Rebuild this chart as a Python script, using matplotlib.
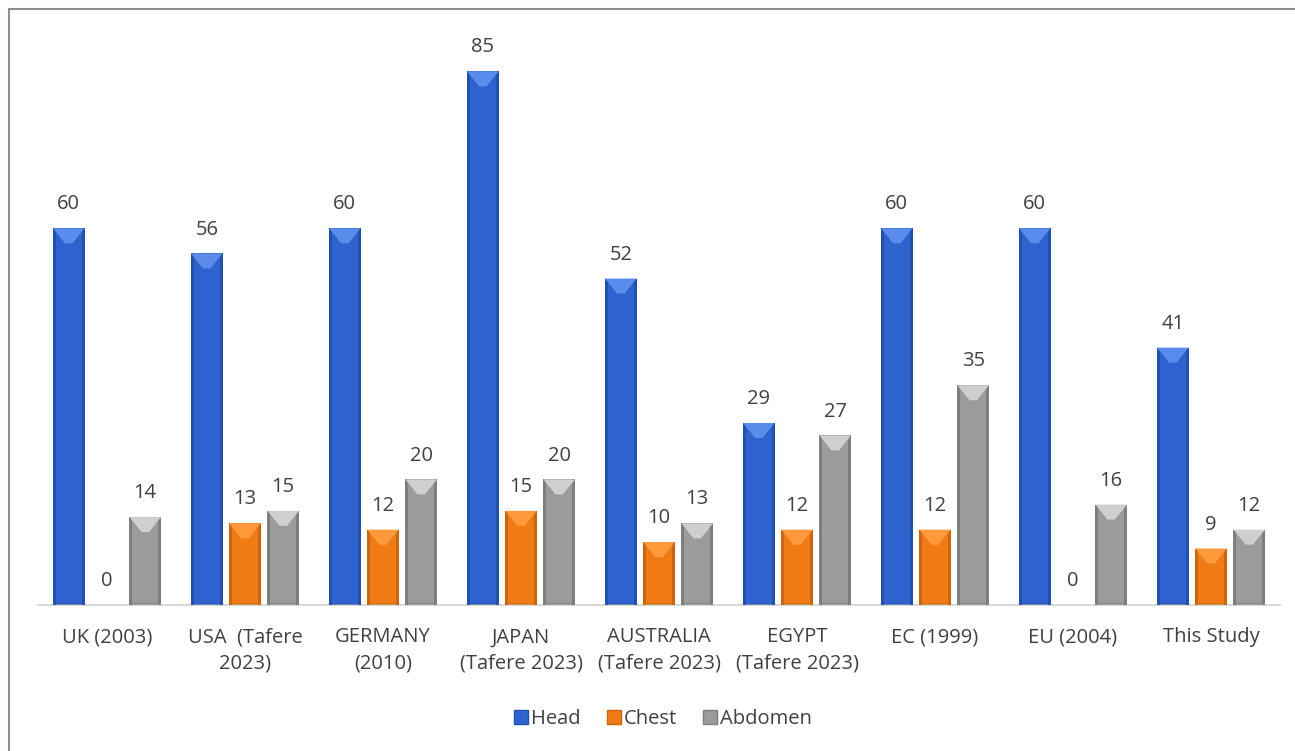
import matplotlib.pyplot as plt
from matplotlib.patches import Polygon, Rectangle, Patch

categories = ['UK (2003)', 'USA  (Tafere\n2023)', 'GERMANY\n(2010)', 'JAPAN\n(Tafere 2023)',
              'AUSTRALIA\n(Tafere 2023)', 'EGYPT\n(Tafere 2023)', 'EC (1999)', 'EU (2004)', 'This Study']
head = [60, 56, 60, 85, 52, 29, 60, 60, 41]
chest = [0, 13, 12, 15, 10, 12, 12, 0, 9]
abdomen = [14, 15, 20, 20, 13, 27, 35, 16, 12]

series = [('Head', head, '#2E63CF', '#5A8CEB', '#2250B2'),
          ('Chest', chest, '#F07B14', '#FF9A3C', '#CF6508'),
          ('Abdomen', abdomen, '#9B9B9B', '#CFCFCF', '#7E7E7E')]

plt.rcParams['font.family'] = ['Open Sans', 'DejaVu Sans']
text_col = '#404040'
fs = 14.5

fig = plt.figure(figsize=(12.95, 7.51), dpi=100)
ax = fig.add_axes([38 / 1295, 146 / 751, 1242 / 1295, 565 / 751])
ax.set_xlim(-0.5, len(categories) - 0.5)
ax.set_ylim(0, 90)

width = 0.228
offsets = [-0.277, 0, 0.277]
# pixel sizes converted to data units for the bevel look
px_x = len(categories) / 1242
px_y = 90 / 565


def bevel_bar(x, h, base, light, dark):
    ax.bar(x, h, width, color=base, zorder=2)
    if h <= 0:
        return
    l, r = x - width / 2, x + width / 2
    side = 3 * px_x
    top_h = min(15 * px_y, h * 0.4)
    inset = 12 * px_x
    ax.add_patch(Rectangle((l, 0), side, h, color=dark, lw=0, zorder=3))
    ax.add_patch(Rectangle((r - side, 0), side, h, color=dark, lw=0, zorder=3))
    ax.add_patch(Polygon([(l, h), (r, h), (r - inset, h - top_h), (l + inset, h - top_h)],
                         closed=True, color=light, lw=0, zorder=4))
    ax.add_patch(Rectangle((l, 0), width, 2 * px_y, color=dark, lw=0, zorder=3, alpha=0.6))


for (name, vals, base, light, dark), off in zip(series, offsets):
    for i, v in enumerate(vals):
        bevel_bar(i + off, v, base, light, dark)
        ax.annotate(str(v), (i + off, v), xytext=(0, 10), textcoords='offset points',
                    ha='center', va='bottom', fontsize=fs, color=text_col)

for s in ['top', 'right', 'left']:
    ax.spines[s].set_visible(False)
ax.spines['bottom'].set_color('#D9D9D9')
ax.spines['bottom'].set_linewidth(1.5)
ax.set_yticks([])
ax.set_xticks(range(len(categories)))
ax.set_xticklabels(categories, fontsize=fs, color=text_col, linespacing=1.45)
ax.tick_params(axis='x', length=0, pad=16)

handles = [Patch(facecolor=s[2], edgecolor=s[4], label=s[0]) for s in series]
leg = fig.legend(handles=handles, loc='center', bbox_to_anchor=(0.512, 1 - 719 / 751), ncol=3,
                 frameon=False, fontsize=fs, handlelength=0.7, handleheight=0.7,
                 handletextpad=0.15, columnspacing=1.3)
for t in leg.get_texts():
    t.set_color(text_col)

fig.patches.append(Rectangle((9 / 1295, -0.1), 1.2, 1 - 9 / 751 + 0.1, transform=fig.transFigure,
                             fill=False, edgecolor='#8C8C8C', lw=1.5))

fig.savefig('out.png', dpi=100)
